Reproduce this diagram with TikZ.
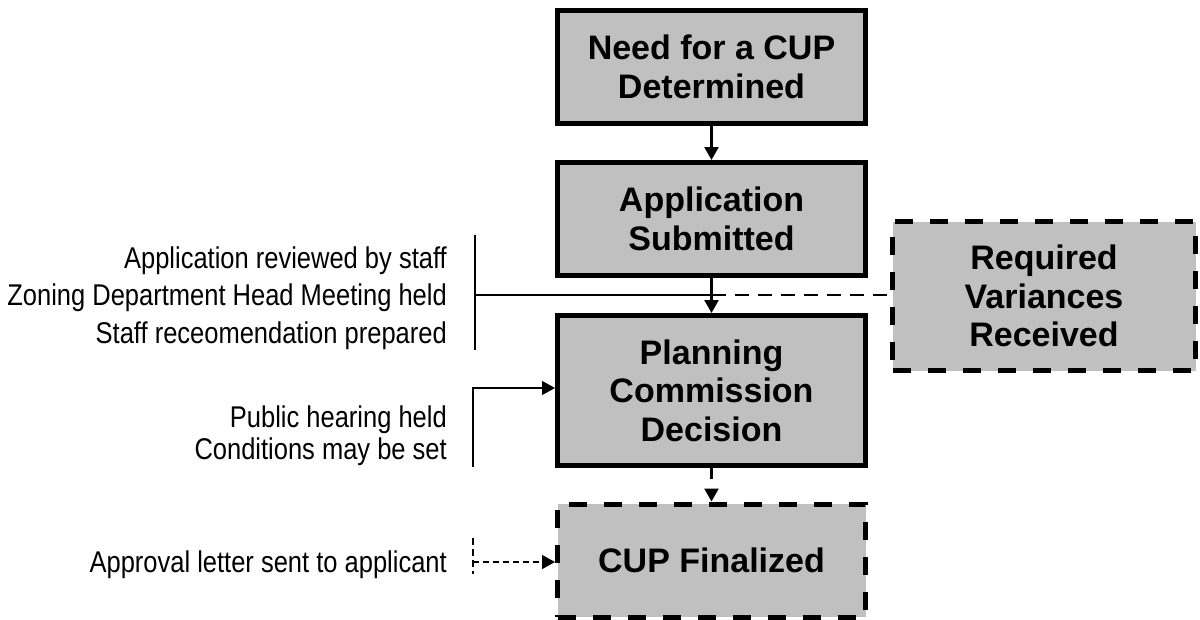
\documentclass[tikz,border=0pt]{standalone}
\usepackage{fontspec}
\setmainfont{Liberation Sans}
\newfontfamily\narrowfont{Liberation Sans}[FakeStretch=0.85]
\usetikzlibrary{arrows.meta}
\definecolor{boxgray}{HTML}{C0C0C0}
\newcommand\boxfont{\bfseries\fontsize{34}{38.5}\selectfont}
\newcommand\sidefont{\narrowfont\fontsize{30}{37.5}\selectfont}
\begin{document}
\begin{tikzpicture}[x=1pt,y=-1pt,
  box/.style={draw, line width=5pt, fill=boxgray, minimum width=308pt, minimum height=113pt, align=center, font=\boxfont, inner sep=0pt},
  dbox/.style={box, dash pattern=on 18pt off 17pt},
  side/.style={anchor=base east, font=\sidefont, inner sep=0pt},
  flow/.style={line width=2.5pt, -{Triangle[length=13pt,width=14pt]}},
  thin/.style={line width=1.3pt},
  tip/.style={-{Triangle[length=13pt,width=14pt]}}
]
\useasboundingbox (0,0) rectangle (1200,619);

% boxes
\node[box] (b1) at (711.5,67) {Need for a CUP\\Determined};
\node[box] (b2) at (711.5,219) {Application\\Submitted};
\node[box, minimum height=150pt] (b3) at (711.5,390.5) {Planning\\Commission\\Decision};
\node[dbox] (b4) at (711.5,560.5) {CUP Finalized};
\node[dbox, minimum width=303pt, minimum height=149pt] (r) at (1044,296) {Required\\Variances\\Received};

% side texts
\node[side] (t1a) at (447,268) {Application reviewed by staff};
\node[side] (t1b) at (447,305) {Zoning Department Head Meeting held};
\node[side] (t1c) at (447,343) {Staff receomendation prepared};
\node[side] (t2a) at (447,427) {Public hearing held};
\node[side] (t2b) at (447,459) {Conditions may be set};
\node[side] (t3) at (447,572) {Approval letter sent to applicant};

% main flow
\draw[flow] (b1.south) -- (b2.north);
\draw[flow] (b2.south) -- (b3.north);
\draw[flow, dash pattern=on 11pt off 10pt] (b3.south) -- (b4.north);

% bracket 1
\coordinate (v1t) at (475,235);
\coordinate (v1b) at (475,350);
\coordinate (j) at (711.5,295);
\draw[thin] (v1t) -- (v1b);
\draw[thin] (v1t |- j) -- (j);
\draw[line width=2.2pt, dash pattern=on 14pt off 9pt] (j) -- (j -| r.west);

% bracket 2
\coordinate (p1) at (473,467);
\coordinate (p2) at (473,388);
\draw[thin, tip] (p1) -- (p2) -- (p2 -| b3.west);

% bracket 3
\coordinate (a1) at (473,538);
\coordinate (a2) at (473,574);
\coordinate (a3) at (473,562);
\draw[line width=1.3pt, dash pattern=on 7pt off 4pt] (a1) -- (a2);
\draw[line width=1.5pt, dash pattern=on 6pt off 4pt, tip] (a3) -- (a3 -| b4.west);
\end{tikzpicture}
\end{document}
